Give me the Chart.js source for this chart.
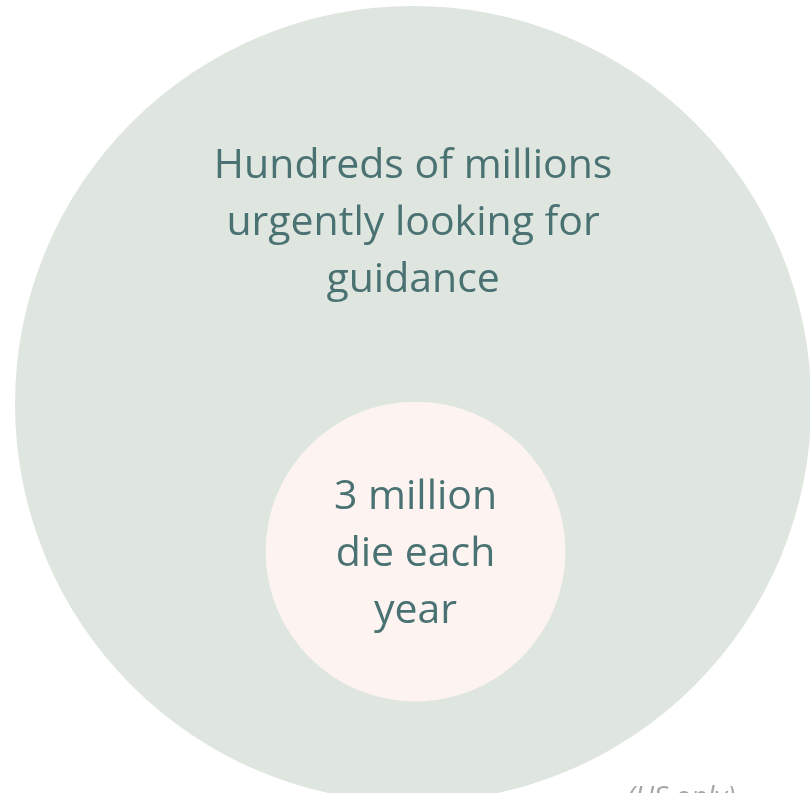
<!DOCTYPE html>
<html>
<head>
<meta charset="utf-8">
<script src="https://cdn.jsdelivr.net/npm/chart.js@4.4.0/dist/chart.umd.min.js"></script>
<style>
    html, body { margin: 0; padding: 0; background: #ffffff; }
    #wrap { position: relative; width: 810px; height: 793px; }
</style>
</head>
<body>
<div id="wrap"><canvas id="canvas"></canvas></div>
<script>
    // circles: outer group and inner group
    var circleNames = ['Hundreds of millions', '3 million'];
    var circleLines = [
        ['Hundreds of millions', 'urgently looking for', 'guidance'],
        ['3 million', 'die each', 'year']
    ];
    var circleX = [0.02, 0.026];
    var circleY = [-0.019, -0.391];
    var circleSize = [0.983, 0.370]; // radius in x-axis units
    var circleColors = ['#dfe6df', '#fdf4f1'];
    var footNote = '(US only)';

    var textColor = '#4a7272';
    var fontFamily = '"Open Sans", "Noto Sans", sans-serif';

    // text block centre, relative to circle radius (negative = above centre)
    var textOffset = [-0.46, 0.0];

    var sizeToPx = function (c) {
        var xs = c.chart.scales.x;
        if (!xs) return 0;
        return xs.getPixelForValue(circleSize[c.datasetIndex]) - xs.getPixelForValue(0);
    };

    var labelPlugin = {
        id: 'circleLabels',
        afterDatasetsDraw: function (chart) {
            var ctx = chart.ctx;
            ctx.save();
            ctx.fillStyle = textColor;
            ctx.textAlign = 'center';
            ctx.textBaseline = 'alphabetic';
            ctx.font = '41px ' + fontFamily;
            chart.data.datasets.forEach(function (ds, i) {
                var el = chart.getDatasetMeta(i).data[0];
                var r = el.options.radius;
                var lines = circleLines[i];
                var lineH = 57;
                var cy = el.y + textOffset[i] * r;
                lines.forEach(function (txt, j) {
                    var y = cy + (j - (lines.length - 1) / 2) * lineH + 14;
                    ctx.fillText(txt, el.x, y);
                });
            });
            // footnote
            ctx.fillStyle = '#a6a6a6';
            ctx.font = 'italic 28px ' + fontFamily;
            ctx.textAlign = 'left';
            ctx.fillText(footNote, 627, 806);
            ctx.restore();
        }
    };

    var ctx = document.getElementById('canvas').getContext('2d');

    var chart = new Chart(ctx, {
        type: 'scatter',
        data: {
            datasets: circleNames.map(function (name, i) {
                return {
                    label: name,
                    data: [{x: circleX[i], y: circleY[i]}],
                    order: circleNames.length - i, // inner circle on top
                    backgroundColor: circleColors[i],
                    pointBackgroundColor: circleColors[i],
                    pointBorderWidth: 0,
                    pointRadius: sizeToPx,
                    pointHoverRadius: sizeToPx
                };
            })
        },
        options: {
            responsive: true,
            maintainAspectRatio: false,
            animation: false,
            layout: { padding: 0 },
            plugins: {
                legend: { display: false },
                tooltip: { enabled: false },
                title: { display: false }
            },
            scales: {
                x: { type: 'linear', min: -1, max: 1, display: false },
                y: { type: 'linear', min: -1, max: 1, display: false }
            },
            clip: false
        },
        plugins: [labelPlugin]
    });
</script>
</body>
</html>
